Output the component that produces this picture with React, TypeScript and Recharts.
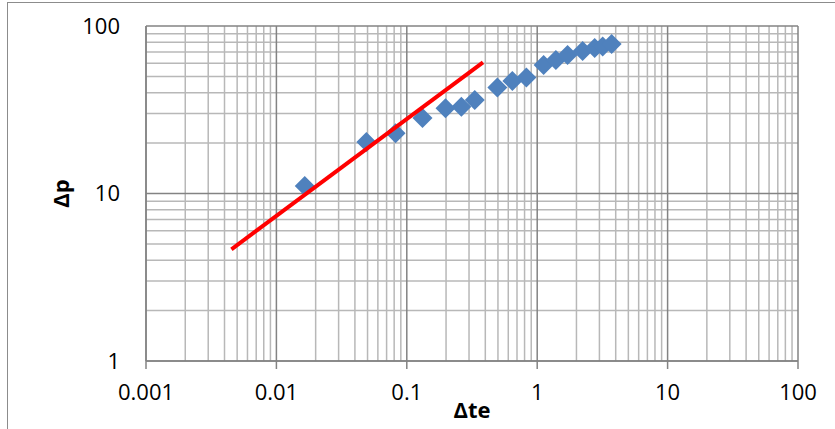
import React from "react";
import {
  ScatterChart,
  Scatter,
  XAxis,
  YAxis,
  ReferenceLine,
} from "recharts";

// measured points (Δte, Δp)
const dte = [0.0165, 0.049, 0.082, 0.132, 0.198, 0.262, 0.332, 0.495, 0.645, 0.826, 1.12, 1.39, 1.71, 2.23, 2.76, 3.18, 3.72];
const dp = [11.1, 20.3, 22.9, 28.2, 32.3, 33.0, 36.2, 43.0, 47.0, 49.2, 58.5, 62.7, 67.1, 71.0, 73.9, 75.5, 78.1];

// straight-line fit (two end points)
const fitX = [0.00452, 0.384];
const fitY = [4.64, 60.7];

const xMajor = [0.001, 0.01, 0.1, 1, 10, 100];
const yMajor = [1, 10, 100];
const minorMult = [2, 3, 4, 5, 6, 7, 8, 9];

const points = dte.map((x, i) => ({ x, y: dp[i] }));
const fitLine = fitX.map((x, i) => ({ x, y: fitY[i] }));
const xMinor = xMajor.slice(0, -1).flatMap((d) => minorMult.map((m) => +(d * m).toPrecision(3)));
const yMinor = yMajor.slice(0, -1).flatMap((d) => minorMult.map((m) => d * m));

const FONT = "'Open Sans', 'Liberation Sans', sans-serif";
const MINOR = "#b8b8b8";
const MAJOR = "#838383";

const Diamond = (props: any) => {
  const { cx, cy } = props;
  if (cx == null || cy == null) return null;
  const r = 10;
  return (
    <polygon
      points={`${cx},${cy - r} ${cx + r},${cy} ${cx},${cy + r} ${cx - r},${cy}`}
      fill="#4f81bd"
    />
  );
};

const NoDot = () => null;

export default function App() {
  const tick = { fill: "#000", fontSize: 22, fontFamily: FONT };
  return (
    <div style={{ position: "absolute", left: 0, top: 0, width: 835, height: 429, background: "#fff", overflow: "hidden" }}>
      <div
        style={{
          position: "absolute",
          left: 7,
          top: 2,
          width: 840,
          height: 440,
          border: "1.5px solid #8c8c8c",
          boxSizing: "border-box",
        }}
      />
      <div style={{ position: "absolute", left: 0, top: 0 }}>
        <ScatterChart width={835} height={429} margin={{ top: 26, right: 37, bottom: 0, left: 0 }}>
          <XAxis
            type="number"
            dataKey="x"
            scale="log"
            domain={[0.001, 100]}
            allowDataOverflow
            ticks={xMajor}
            tickFormatter={(v: number) => String(v)}
            height={68}
            tick={tick}
            tickSize={8}
            tickMargin={15}
            tickLine={{ stroke: MAJOR, strokeWidth: 1.5 }}
            axisLine={{ stroke: MAJOR, strokeWidth: 1.5 }}
            label={{
              content: (p: any) => {
                const vb = p.viewBox;
                return (
                  <text
                    x={vb.x + vb.width / 2}
                    y={vb.y + 57}
                    textAnchor="middle"
                    fontFamily={FONT}
                    fontWeight={700}
                    fontSize={22}
                  >
                    Δte
                  </text>
                );
              },
            }}
          />
          <YAxis
            type="number"
            dataKey="y"
            scale="log"
            domain={[1, 100]}
            allowDataOverflow
            ticks={yMajor}
            tickFormatter={(v: number) => String(v)}
            width={146}
            tick={tick}
            tickSize={0}
            tickMargin={26}
            tickLine={false}
            axisLine={{ stroke: MAJOR, strokeWidth: 1.5 }}
            label={{
              content: (p: any) => {
                const vb = p.viewBox;
                const cx = 60;
                const cy = vb.y + vb.height / 2;
                return (
                  <text
                    x={cx}
                    y={cy}
                    transform={`rotate(-90 ${cx} ${cy})`}
                    textAnchor="middle"
                    dominantBaseline="central"
                    fontFamily={FONT}
                    fontWeight={700}
                    fontSize={22}
                  >
                    Δp
                  </text>
                );
              },
            }}
          />
          {xMinor.map((v) => (
            <ReferenceLine key={`xm${v}`} x={v} stroke={MINOR} strokeWidth={1.5} />
          ))}
          {yMinor.map((v) => (
            <ReferenceLine key={`ym${v}`} y={v} stroke={MINOR} strokeWidth={1.5} />
          ))}
          {xMajor.map((v) => (
            <ReferenceLine key={`xM${v}`} x={v} stroke={MAJOR} strokeWidth={1.5} />
          ))}
          {yMajor.map((v) => (
            <ReferenceLine key={`yM${v}`} y={v} stroke={MAJOR} strokeWidth={1.5} />
          ))}
          <Scatter data={points} shape={Diamond} isAnimationActive={false} />
          <Scatter
            data={fitLine}
            line={{ stroke: "#ff0000", strokeWidth: 4 }}
            shape={NoDot}
            isAnimationActive={false}
          />
        </ScatterChart>
      </div>
    </div>
  );
}
